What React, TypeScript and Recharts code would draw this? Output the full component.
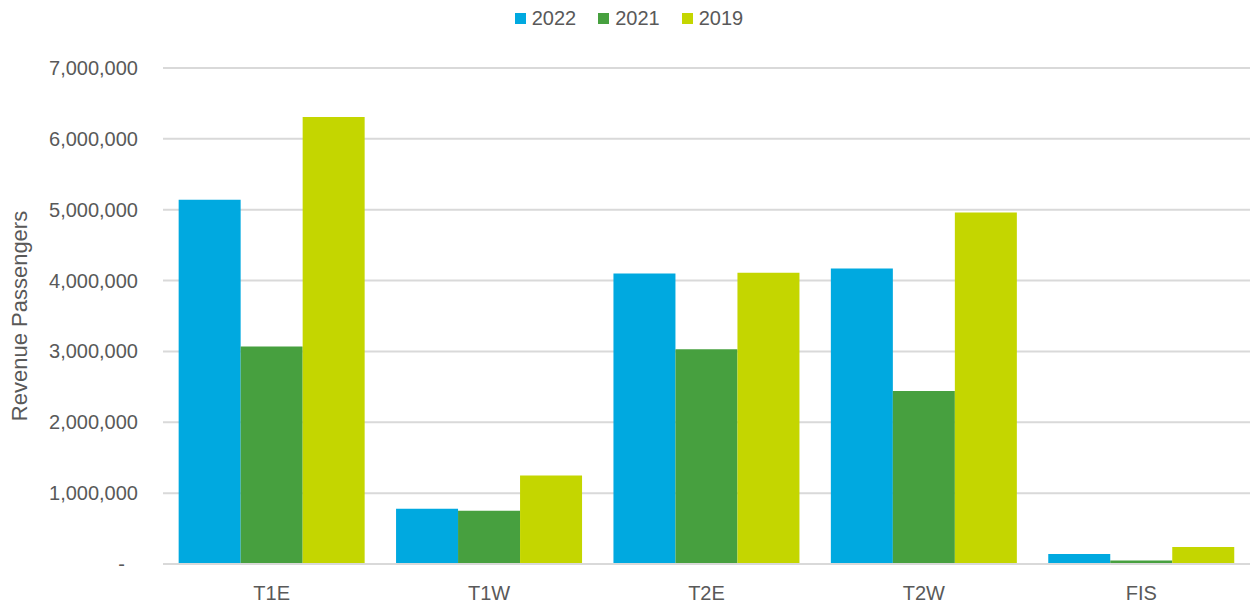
import { BarChart, Bar, XAxis, YAxis, CartesianGrid, Label } from 'recharts'

const terminals = ['T1E', 'T1W', 'T2E', 'T2W', 'FIS']
const pax2022 = [5140000, 780000, 4100000, 4170000, 140000]
const pax2021 = [3070000, 750000, 3030000, 2440000, 50000]
const pax2019 = [6310000, 1250000, 4110000, 4960000, 240000]
const yTicks = [0, 1000000, 2000000, 3000000, 4000000, 5000000, 6000000, 7000000]

const series = [
  { key: 'y2022', name: '2022', color: '#00A9E0' },
  { key: 'y2021', name: '2021', color: '#47A03F' },
  { key: 'y2019', name: '2019', color: '#C4D600' },
]

const data = terminals.map((t, i) => ({
  name: t,
  y2022: pax2022[i],
  y2021: pax2021[i],
  y2019: pax2019[i],
}))

const FONT = '"Liberation Sans", Arial, sans-serif'
const TEXT = '#595959'

// eslint-disable-next-line @typescript-eslint/no-explicit-any
function YTick({ x, y, payload }: any) {
  const v = payload.value as number
  const label = v === 0 ? '-' : v.toLocaleString('en-US')
  return (
    <text
      x={v === 0 ? x - 13 : x}
      y={y}
      dy={7}
      textAnchor="end"
      fill={TEXT}
      fontSize={20}
      fontFamily={FONT}
    >
      {label}
    </text>
  )
}

function TopLegend() {
  return (
    <div
      style={{
        position: 'absolute', top: 6, left: 0, width: 1258,
        display: 'flex', justifyContent: 'center', gap: 22,
        fontFamily: FONT, fontSize: 20, color: TEXT, lineHeight: '24px',
      }}
    >
      {series.map(s => (
        <div key={s.key} style={{ display: 'flex', alignItems: 'center' }}>
          <span style={{ width: 11, height: 11, background: s.color, display: 'inline-block', marginRight: 6 }} />
          <span>{s.name}</span>
        </div>
      ))}
    </div>
  )
}

export default function App() {
  return (
    <div style={{ position: 'absolute', left: 0, top: 0, width: 1258, height: 608, background: '#fff' }}>
      <BarChart
        width={1258}
        height={608}
        data={data}
        margin={{ top: 68, right: 8, bottom: 14, left: 0 }}
        barCategoryGap="7.2%"
        barGap={0}
      >
        <CartesianGrid vertical={false} stroke="#D9D9D9" strokeWidth={2} />
        <XAxis
          dataKey="name"
          tickLine={false}
          axisLine={{ stroke: '#D9D9D9', strokeWidth: 2 }}
          tick={{ fill: TEXT, fontSize: 20, fontFamily: FONT }}
          tickMargin={16}
        />
        <YAxis
          width={163}
          domain={[0, 7000000]}
          ticks={yTicks}
          interval={0}
          tickLine={false}
          axisLine={false}
          tickSize={0}
          tickMargin={25}
          tick={<YTick />}
        >
          <Label
            value="Revenue Passengers"
            angle={-90}
            position="insideLeft"
            dx={14}
            style={{ fill: TEXT, fontSize: 22, fontFamily: FONT, textAnchor: 'middle' }}
          />
        </YAxis>
        {series.map(s => (
          <Bar key={s.key} dataKey={s.key} name={s.name} fill={s.color} isAnimationActive={false} />
        ))}
      </BarChart>
      <TopLegend />
    </div>
  )
}
